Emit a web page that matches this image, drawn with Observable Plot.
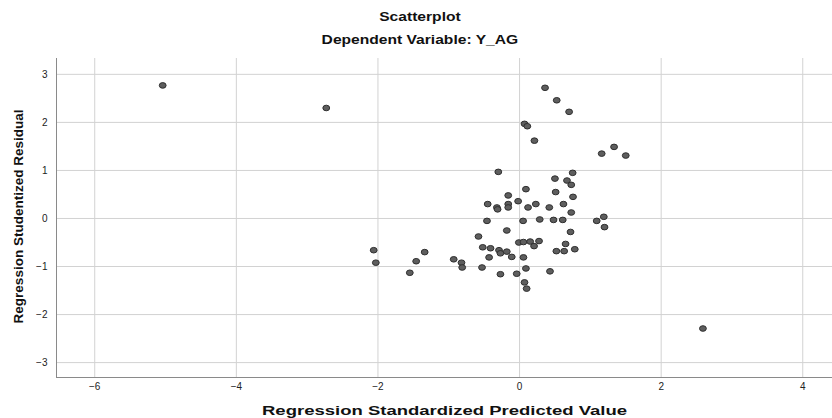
<!DOCTYPE html>
<html><head><meta charset="utf-8">
<script src="https://cdn.jsdelivr.net/npm/d3@7"></script>
<script src="https://cdn.jsdelivr.net/npm/@observablehq/plot@0.6"></script>
<style>
body{margin:0;background:#fff;font-family:"Liberation Sans",Arial,sans-serif;}
#head{position:relative;width:832px;height:50px;}
.t{position:absolute;left:0;width:840px;text-align:center;font-weight:bold;font-size:13px;color:#111;line-height:1;}
.t span{display:inline-block;transform:scaleX(1.2);}
</style></head><body>
<div id="head">
  <div class="t" style="top:10px"><span>Scatterplot</span></div>
  <div class="t" style="top:33px"><span>Dependent Variable: Y_AG</span></div>
</div>
<div id="chart"></div>
<script>
const predicted = [-5.04, -2.73, -2.06, -2.03, -1.55, -1.46, -1.34, -0.93, -0.82, -0.81,
  -0.58, -0.53, -0.52, -0.46, -0.45, -0.43, -0.41, -0.32, -0.31, -0.30,
  -0.29, -0.27, -0.27, -0.18, -0.18, -0.16, -0.16, -0.16, -0.11, -0.04,
  -0.02, -0.01, 0.055, 0.15, 0.275, 0.205, 0.05, 0.055, 0.07, 0.11,
  0.09, 0.09, 0.07, 0.10, 0.12, 0.21, 0.23, 0.285, 0.36, 0.42,
  0.43, 0.48, 0.50, 0.51, 0.52, 0.525, 0.61, 0.62, 0.63, 0.65,
  0.67, 0.70, 0.72, 0.73, 0.73, 0.75, 0.755, 0.78, 1.09, 1.19,
  1.20, 1.16, 1.335, 1.50, 2.59];
const residual = [2.77, 2.30, -0.66, -0.92, -1.13, -0.89, -0.70, -0.85, -0.92, -1.02,
  -0.375, -1.02, -0.60, -0.05, 0.30, -0.81, -0.62, 0.23, 0.19, 0.97,
  -0.66, -0.725, -1.16, -0.25, -0.69, 0.48, 0.30, 0.23, -0.80, -1.15,
  0.36, -0.50, -0.49, -0.48, -0.47, -0.575, -0.05, -0.81, 1.97, 1.92,
  0.61, -1.04, -1.33, -1.46, 0.23, 1.62, 0.30, -0.02, 2.72, 0.23,
  -1.10, -0.03, 0.83, 0.55, -0.68, 2.46, -0.03, 0.30, -0.68, -0.53,
  0.79, 2.22, -0.28, 0.125, 0.70, 0.95, 0.45, -0.64, -0.05, 0.035,
  -0.18, 1.35, 1.49, 1.31, -2.29];
const xTicks = [-6, -4, -2, 0, 2, 4];
const yTicks = [-3, -2, -1, 0, 1, 2, 3];
const xDomain = [-6.54, 4.42];
const yDomain = [-3.31, 3.33];
const xTitle = "Regression Standardized Predicted Value";
const yTitle = "Regression Studentized Residual";

const data = predicted.map((p, i) => ({p, r: residual[i]}));

const chart = Plot.plot({
  width: 832, height: 368,
  marginTop: 8, marginLeft: 56, marginRight: 0, marginBottom: 41,
  x: {domain: xDomain},
  y: {domain: yDomain},
  style: {fontFamily: "'Liberation Sans', Arial, sans-serif", fontSize: "10px", color: "#222", background: "#fff"},
  marks: [
    Plot.gridX(xTicks, {stroke: "#d2d2d2", strokeOpacity: 1}),
    Plot.gridY(yTicks, {stroke: "#d2d2d2", strokeOpacity: 1}),
    Plot.ruleX([xDomain[0]], {stroke: "#8a8a8a"}),
    Plot.ruleY([yDomain[0]], {stroke: "#8a8a8a"}),
    Plot.axisX(xTicks, {tickSize: 0, tickPadding: 5, label: null}),
    Plot.axisY(yTicks, {tickSize: 0, tickPadding: 9, label: null}),
    Plot.text([xTitle], {frameAnchor: "bottom", textAnchor: "middle", lineAnchor: "middle", dy: 33, fontWeight: "bold", fontSize: 13.5, fill: "#111"}),
    Plot.text([yTitle], {frameAnchor: "left", textAnchor: "middle", lineAnchor: "middle", rotate: -90, dx: -37.5, dy: -1.5, fontWeight: "bold", fontSize: 13.5, fill: "#111"}),
    Plot.dot(data, {x: "p", y: "r", r: 2.8, fill: "#5e5e5e", stroke: "#2f2f2f", strokeWidth: 1})
  ]
});
document.getElementById("chart").appendChild(chart);

// stretch dots horizontally into ellipses (as in reference), keeping Plot's positions
const ns = "http://www.w3.org/2000/svg";
chart.querySelectorAll('g[aria-label="dot"] circle').forEach(c => {
  const e = document.createElementNS(ns, "ellipse");
  for (const a of c.attributes) if (a.name !== "r") e.setAttribute(a.name, a.value);
  const r = +c.getAttribute("r");
  e.setAttribute("rx", r * 1.22);
  e.setAttribute("ry", r);
  c.replaceWith(e);
});
chart.querySelectorAll("text").forEach(t => {
  if (t.textContent === xTitle) { t.setAttribute("textLength", 365); t.setAttribute("lengthAdjust", "spacingAndGlyphs"); }
});
</script>
</body></html>
